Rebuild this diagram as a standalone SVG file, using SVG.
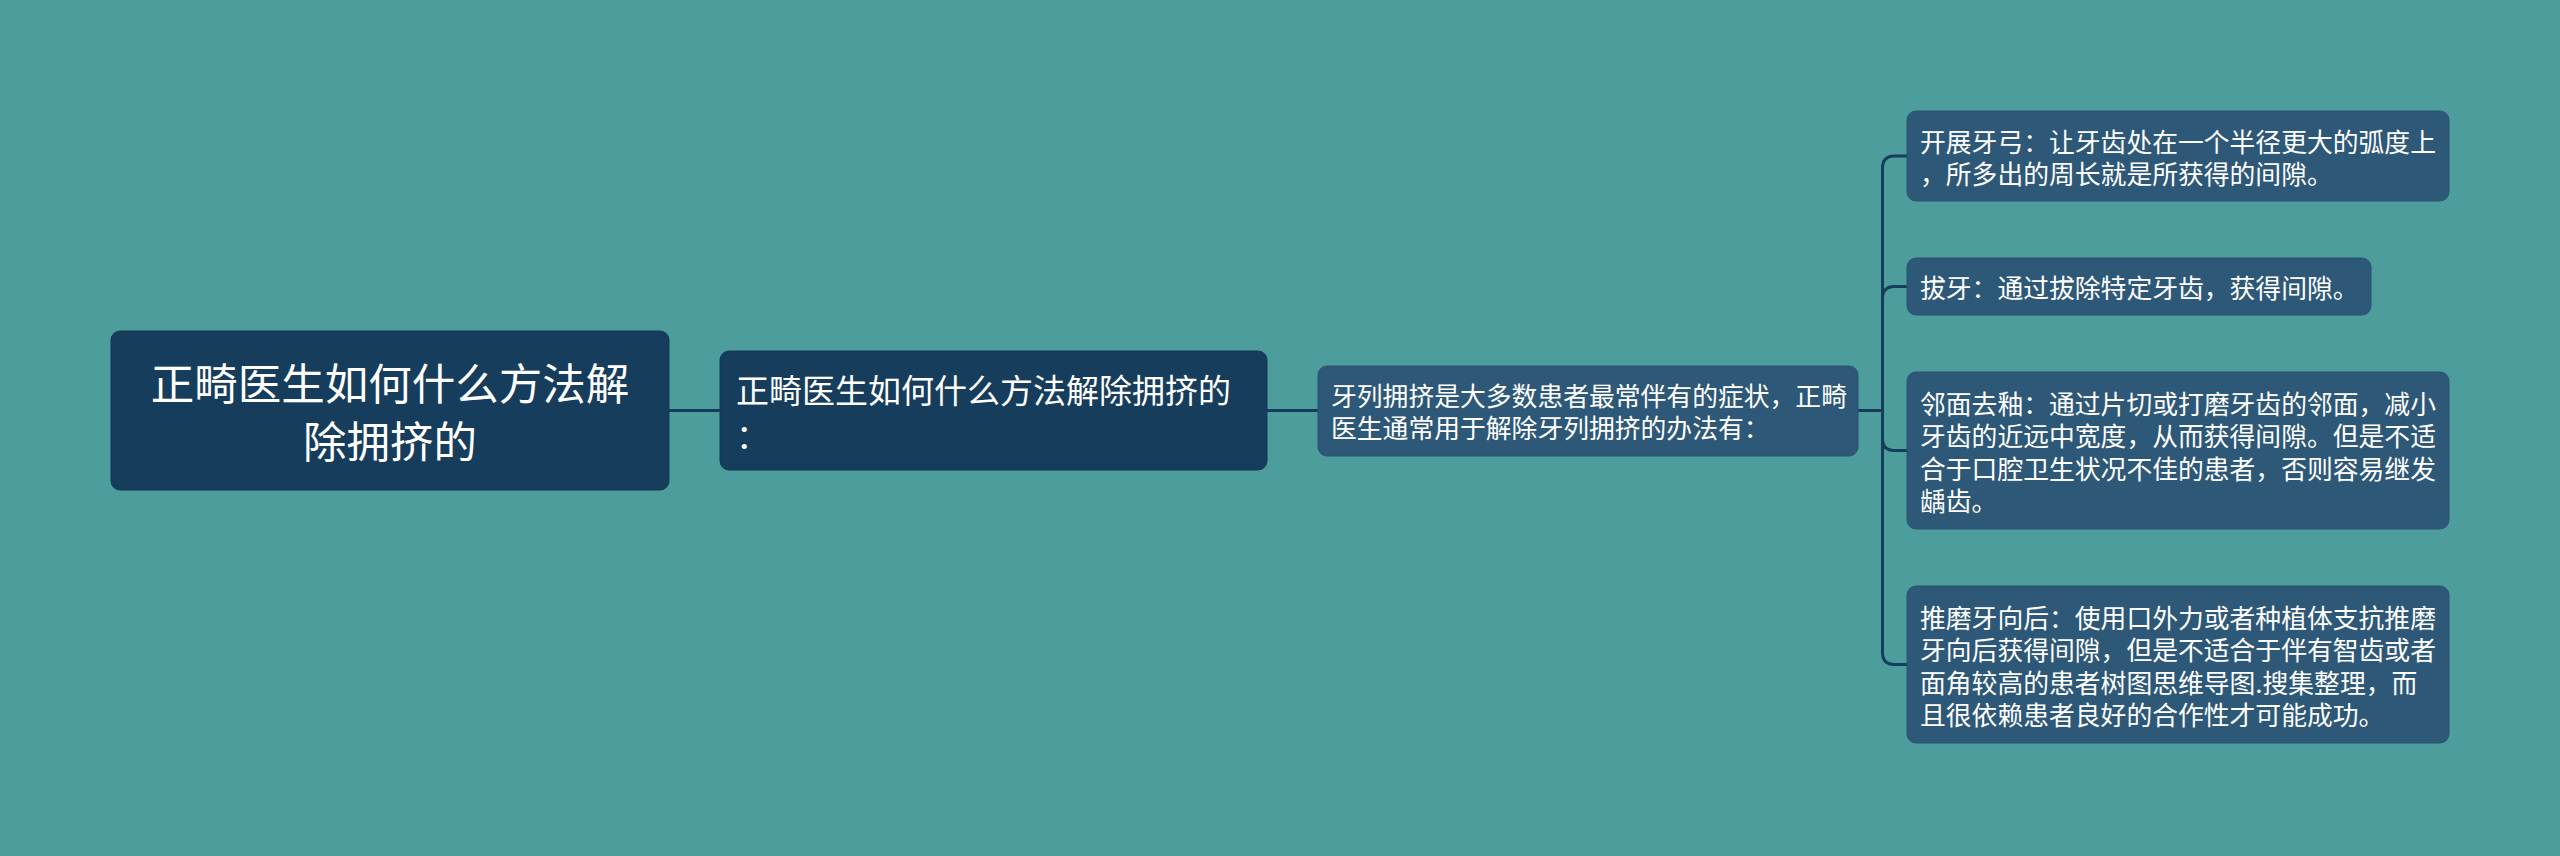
<svg xmlns="http://www.w3.org/2000/svg" width="2560" height="856" viewBox="0 0 2560 856">
<style>
.bg{fill:#4e9d9d}
.dark{fill:#173d5c;stroke:#143654;stroke-width:1}
.mid{fill:#2e5878;stroke:#2a5272;stroke-width:1}
text{fill:#ffffff;font-family:"Microsoft YaHei","Noto Sans CJK SC","Noto Sans",sans-serif;dominant-baseline:central}
.t0{font-size:43.5px}
.t1{font-size:33px}
.t2{font-size:25.8px}
.conn{fill:none;stroke:#173d5c;stroke-width:3}
</style>
<rect class="bg" x="0" y="0" width="2560" height="856"/>
<g id="connectors">
<path class="conn" d="M669 410.5 H720"/>
<path class="conn" d="M1267 410.5 H1318"/>
<path class="conn" d="M1858 410.5 H1882.5"/>
<path class="conn" d="M1882.5 410.5 V168 Q1882.5 156 1894.5 156 H1907"/>
<path class="conn" d="M1882.5 410.5 V298.5 Q1882.5 286.5 1894.5 286.5 H1907"/>
<path class="conn" d="M1882.5 410.5 V438.5 Q1882.5 450.5 1894.5 450.5 H1907"/>
<path class="conn" d="M1882.5 410.5 V652.5 Q1882.5 664.5 1894.5 664.5 H1907"/>
</g>
<g id="root">
<rect class="dark" x="111" y="331" width="558" height="159" rx="9"/>
<text class="t0" x="390" y="381.5" text-anchor="middle">正畸医生如何什么方法解</text>
<text class="t0" x="390" y="439.5" text-anchor="middle">除拥挤的</text>
</g>
<g id="node2">
<rect class="dark" x="720" y="351" width="547" height="119" rx="9"/>
<text class="t1" x="736" y="388.5">正畸医生如何什么方法解除拥挤的</text>
<text class="t1" x="736" y="434">：</text>
</g>
<g id="node3">
<rect class="mid" x="1318" y="366" width="540" height="90" rx="9"/>
<text class="t2" x="1331" y="394.5">牙列拥挤是大多数患者最常伴有的症状，正畸</text>
<text class="t2" x="1331" y="426.5">医生通常用于解除牙列拥挤的办法有：</text>
</g>
<g id="leaf1">
<rect class="mid" x="1907" y="111" width="542" height="90" rx="9"/>
<text class="t2" x="1920" y="140">开展牙弓：让牙齿处在一个半径更大的弧度上</text>
<text class="t2" x="1920" y="172">，所多出的周长就是所获得的间隙。</text>
</g>
<g id="leaf2">
<rect class="mid" x="1907" y="258" width="464" height="57" rx="9"/>
<text class="t2" x="1920" y="286.5">拔牙：通过拔除特定牙齿，获得间隙。</text>
</g>
<g id="leaf3">
<rect class="mid" x="1907" y="372" width="542" height="157" rx="9"/>
<text class="t2" x="1920" y="402">邻面去釉：通过片切或打磨牙齿的邻面，减小</text>
<text class="t2" x="1920" y="434.5">牙齿的近远中宽度，从而获得间隙。但是不适</text>
<text class="t2" x="1920" y="467">合于口腔卫生状况不佳的患者，否则容易继发</text>
<text class="t2" x="1920" y="499.5">龋齿。</text>
</g>
<g id="leaf4">
<rect class="mid" x="1907" y="586" width="542" height="157" rx="9"/>
<text class="t2" x="1920" y="616">推磨牙向后：使用口外力或者种植体支抗推磨</text>
<text class="t2" x="1920" y="648.5">牙向后获得间隙，但是不适合于伴有智齿或者</text>
<text class="t2" x="1920" y="681">面角较高的患者树图思维导图.搜集整理，而</text>
<text class="t2" x="1920" y="713.5">且很依赖患者良好的合作性才可能成功。</text>
</g>
</svg>
